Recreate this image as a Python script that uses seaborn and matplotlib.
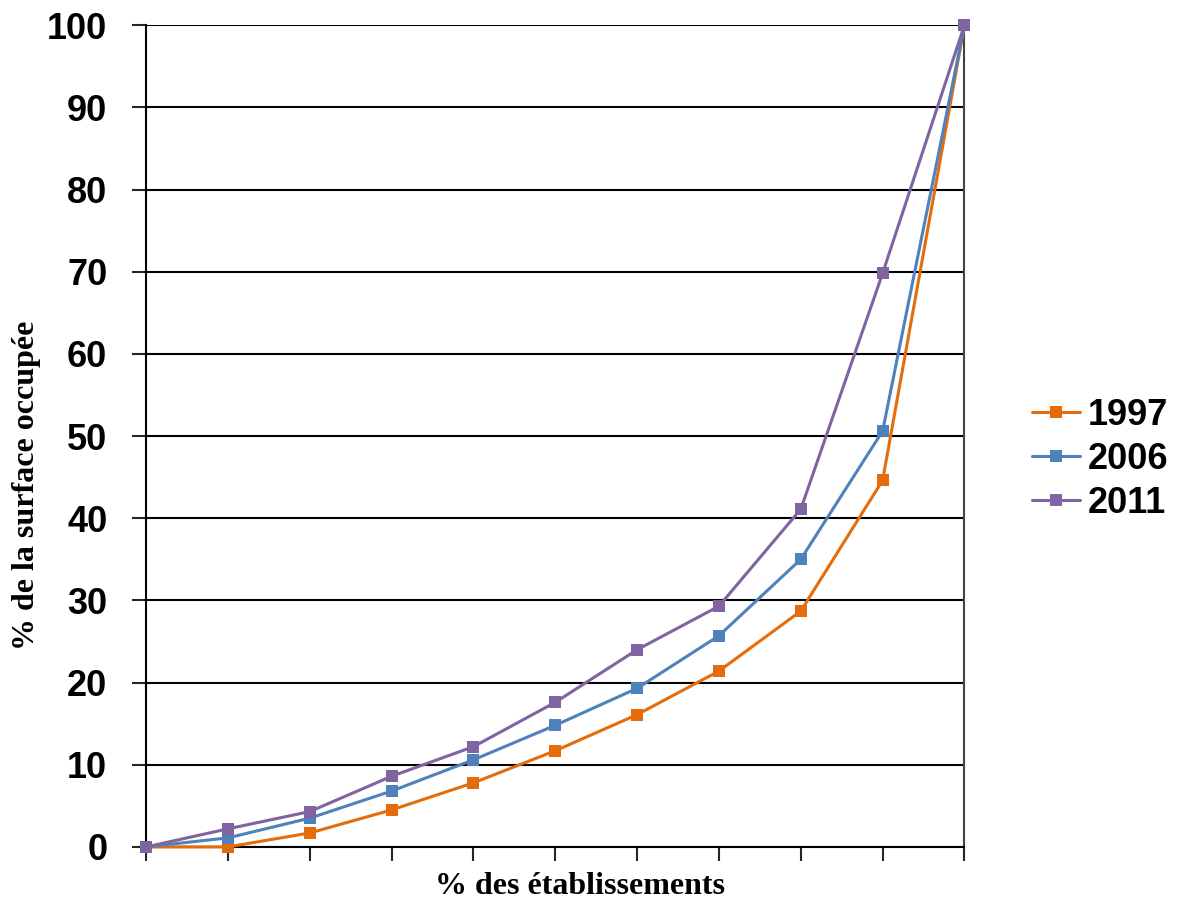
import numpy as np
import pandas as pd
import matplotlib
matplotlib.use('Agg')
import matplotlib.pyplot as plt
import seaborn as sns

# cumulative share of establishments (deciles) vs cumulative share of surface
deciles = list(range(11))
years = ['1997', '2006', '2011']
surface_1997 = [0, 0, 1.7, 4.5, 7.8, 11.7, 16.1, 21.4, 28.7, 44.6, 100]
surface_2006 = [0, 1.1, 3.5, 6.8, 10.6, 14.8, 19.3, 25.7, 35.0, 50.6, 100]
surface_2011 = [0, 2.2, 4.3, 8.6, 12.2, 17.6, 24.0, 29.3, 41.1, 69.8, 100]
colors = ['#E46C0A', '#4F81BD', '#8064A2']

df = pd.DataFrame({
    'decile': deciles * 3,
    'surface': surface_1997 + surface_2006 + surface_2011,
    'annee': [y for y in years for _ in deciles],
})

sns.set_style('white')
plt.rcParams['font.family'] = ['Liberation Sans', 'DejaVu Sans']
plt.rcParams['text.color'] = 'black'
plt.rcParams['axes.labelcolor'] = 'black'

fig = plt.figure(figsize=(11.79, 9.0), dpi=100)
ax = fig.add_axes([0.124, 0.059, 0.694, 0.913])

ax.yaxis.grid(True, color='black', linewidth=1.5)
ax.set_axisbelow(True)

sns.lineplot(data=df, x='decile', y='surface', hue='annee', palette=colors,
             marker='s', markersize=9, markeredgewidth=0, linewidth=2.2,
             ax=ax, clip_on=False, zorder=3)

ax.set_xlim(0, 10)
ax.set_ylim(0, 100)
ax.set_xticks(deciles)
ax.set_xticklabels([])
ax.set_yticks(range(0, 101, 10))
ax.tick_params(axis='y', labelsize=26, labelcolor='black', length=10, width=1.5,
               direction='out', left=True, pad=18)
ax.tick_params(axis='x', length=10, width=1.5, direction='out', bottom=True)
for lab in ax.get_yticklabels():
    lab.set_fontweight('bold')

for side in ['left', 'bottom', 'right']:
    ax.spines[side].set_color('black')
    ax.spines[side].set_linewidth(1.5)
ax.spines['top'].set_visible(False)
ax.spines['right'].set_color('#444444')

serif = ['Liberation Serif', 'DejaVu Serif']
ax.set_xlabel('% des établissements', fontsize=23, fontweight='bold', family=serif)
ax.xaxis.set_label_coords(0.53, -0.031)
ax.set_ylabel('% de la surface occupée', fontsize=23, fontweight='bold', family=serif)
ax.yaxis.set_label_coords(-0.129, 0.44)

leg = ax.legend(loc='center left', bbox_to_anchor=(1.082, 0.472), frameon=False,
                fontsize=26, handlelength=1.35, handletextpad=0.2, labelspacing=0.25,
                borderpad=0, borderaxespad=0)
for t in leg.get_texts():
    t.set_fontweight('bold')
    t.set_color('black')

fig.savefig('out.png', dpi=100)
